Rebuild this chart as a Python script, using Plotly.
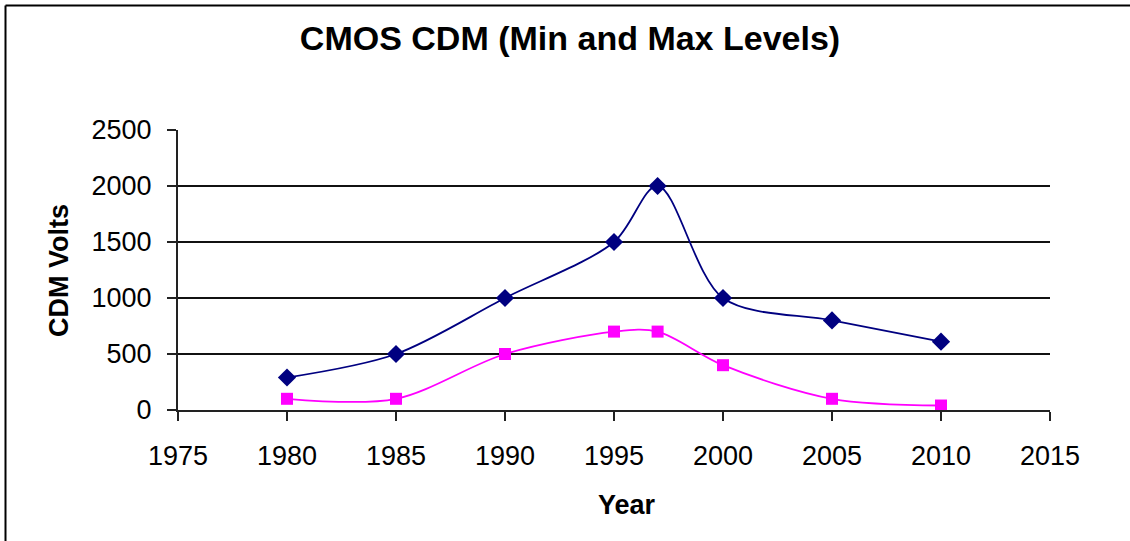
import plotly.graph_objects as go

years_max = [1980, 1985, 1990, 1995, 1997, 2000, 2005, 2010]
cdm_max = [290, 500, 1000, 1500, 2000, 1000, 800, 610]
years_min = [1980, 1985, 1990, 1995, 1997, 2000, 2005, 2010]
cdm_min = [100, 100, 500, 700, 700, 400, 100, 40]
x_ticks = [1975, 1980, 1985, 1990, 1995, 2000, 2005, 2010, 2015]
y_ticks = [0, 500, 1000, 1500, 2000, 2500]
grid_vals = [500, 1000, 1500, 2000]

FONT = "Liberation Sans, Arial, sans-serif"
W, H = 1130, 541
L, R, T, B = 178, 80, 130, 131
pw, ph = W - L - R, H - T - B

fig = go.Figure()
fig.add_trace(go.Scatter(
    x=years_max, y=cdm_max, mode="lines+markers", name="Max",
    line=dict(color="#000080", width=1.8, shape="spline", smoothing=0.9),
    marker=dict(symbol="diamond", size=14, color="#000080"),
))
fig.add_trace(go.Scatter(
    x=years_min, y=cdm_min, mode="lines+markers", name="Min",
    line=dict(color="#FF00FF", width=1.8, shape="spline", smoothing=0.9),
    marker=dict(symbol="square", size=12, color="#FF00FF"),
))

shapes = []
for g in grid_vals:
    shapes.append(dict(type="line", xref="paper", yref="y", x0=0, x1=1, y0=g, y1=g,
                       line=dict(color="#111111", width=2), layer="below"))


def px2x(px):
    return (px - L) / pw


def py2y(py):
    return (H - B - py) / ph


# figure frame (top and left edges)
shapes.append(dict(type="line", xref="paper", yref="paper", x0=px2x(5.5), x1=px2x(1140),
                   y0=py2y(5.5), y1=py2y(5.5), line=dict(color="black", width=2)))
shapes.append(dict(type="line", xref="paper", yref="paper", x0=px2x(5.5), x1=px2x(5.5),
                   y0=py2y(5.5), y1=py2y(560), line=dict(color="black", width=2)))

fig.update_layout(
    width=W, height=H,
    margin=dict(l=L, r=R, t=T, b=B, autoexpand=False),
    paper_bgcolor="white", plot_bgcolor="white",
    showlegend=False,
    font=dict(family=FONT, color="black"),
    title=dict(text="<b>CMOS CDM (Min and Max Levels)</b>", x=570 / W, xanchor="center",
               y=1 - 38 / H, yanchor="middle", font=dict(size=34, family=FONT, color="black")),
    shapes=shapes,
    annotations=[
        dict(text="<b>CDM Volts</b>", xref="paper", yref="paper", x=px2x(59), y=py2y(271),
             textangle=-90, showarrow=False, font=dict(size=27, family=FONT, color="black"),
             xanchor="center", yanchor="middle"),
        dict(text="<b>Year</b>", xref="paper", yref="paper", x=px2x(627), y=py2y(505),
             showarrow=False, font=dict(size=27, family=FONT, color="black"),
             xanchor="center", yanchor="middle"),
    ],
)
fig.update_xaxes(range=[1975, 2015], tickvals=x_ticks, showgrid=False, zeroline=False,
                 showline=True, linecolor="#222222", linewidth=2, ticks="outside",
                 ticklen=9, tickwidth=2, tickcolor="#222222",
                 tickfont=dict(size=27, family=FONT, color="black"), ticklabelstandoff=12)
fig.update_yaxes(range=[0, 2500], tickvals=y_ticks, showgrid=False, zeroline=False,
                 showline=True, linecolor="#222222", linewidth=2, ticks="outside",
                 ticklen=9, tickwidth=2, tickcolor="#222222",
                 tickfont=dict(size=27, family=FONT, color="black"), ticklabelstandoff=10)

fig.write_html("out.html", config={"displayModeBar": False},
               post_script="document.body.style.margin='0';document.body.style.overflow='hidden';")
